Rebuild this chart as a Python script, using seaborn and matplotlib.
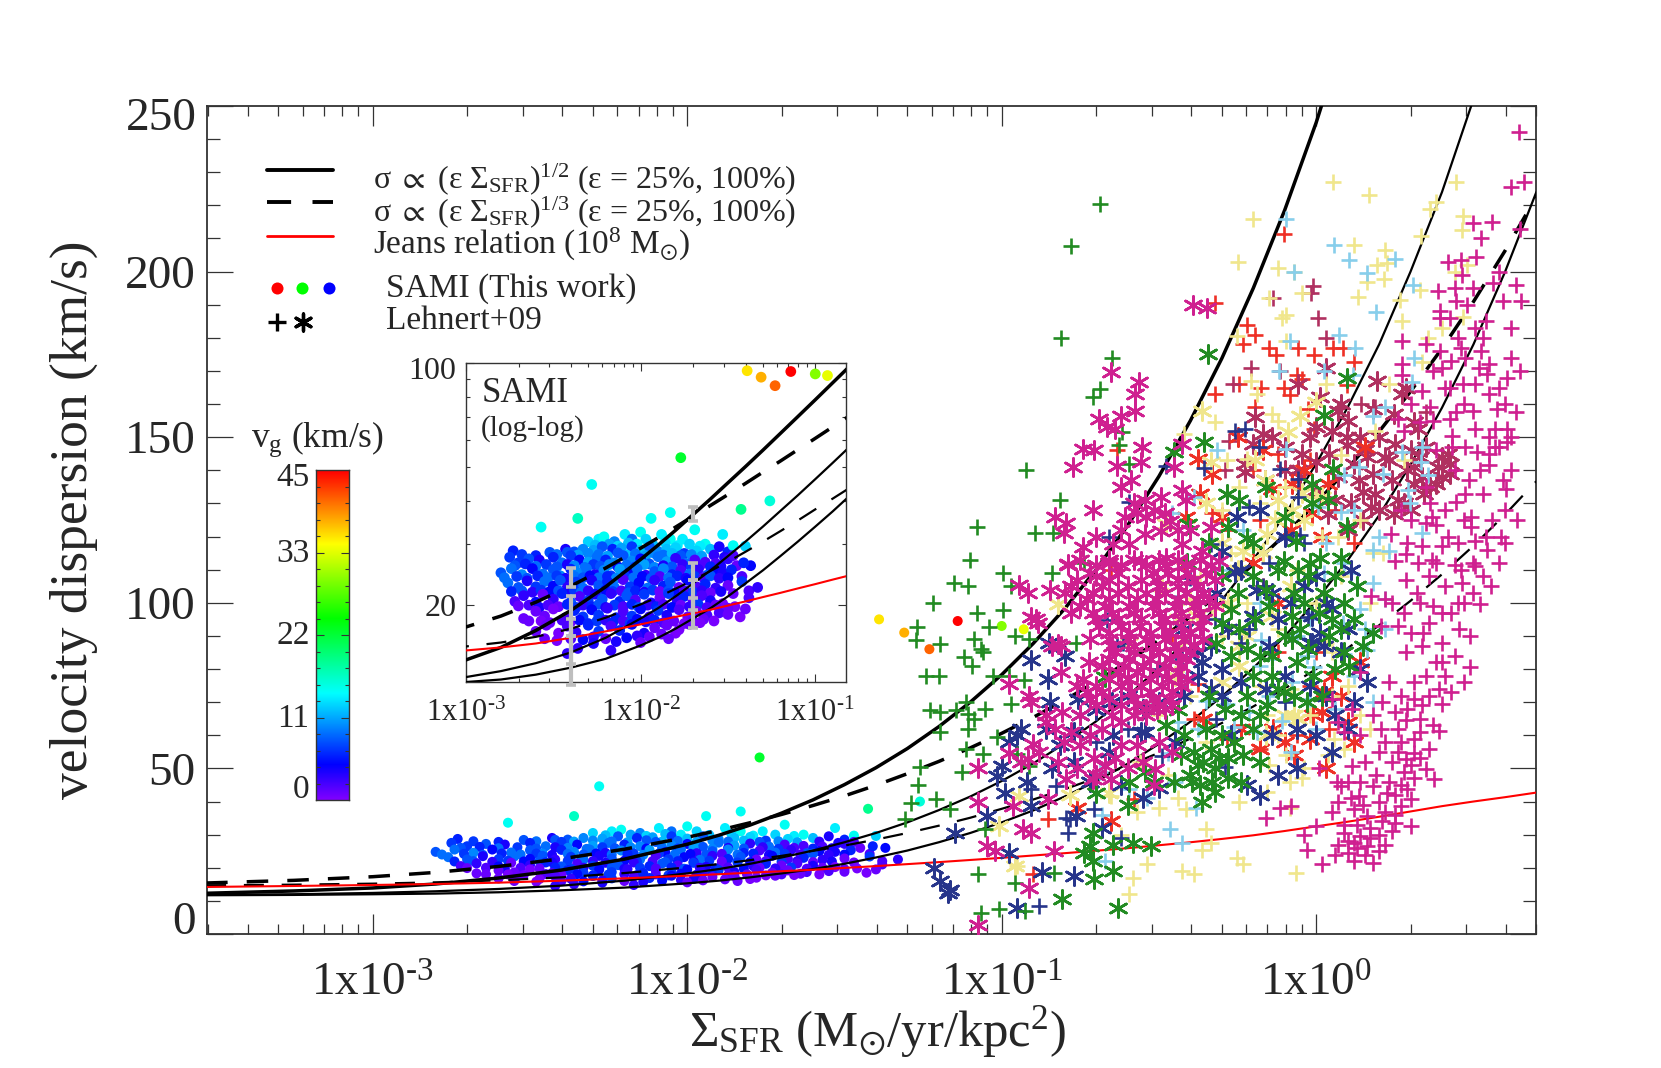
import numpy as np
import matplotlib
matplotlib.use("Agg")
import matplotlib.pyplot as plt
from matplotlib.colors import LinearSegmentedColormap, Normalize
from matplotlib.ticker import FixedLocator, NullFormatter
import seaborn as sns

sns.set_style("ticks")
plt.rcParams['font.family'] = ['Liberation Serif', 'DejaVu Serif']
plt.rcParams['mathtext.fontset'] = 'custom'
plt.rcParams['mathtext.rm'] = 'Liberation Serif'
plt.rcParams['mathtext.it'] = 'Liberation Serif:italic'
plt.rcParams['mathtext.bf'] = 'Liberation Serif:bold'
plt.rcParams['mathtext.fallback'] = 'stix'
plt.rcParams['mathtext.default'] = 'rm'

# ---- model curves (log10 SFR surface density -> km/s)
curve_logx = [-3.53,-3.25,-3.0,-2.8,-2.6,-2.4,-2.2,-2.0,-1.9,-1.8,-1.7,-1.6,-1.5,-1.4,-1.3,-1.2,-1.1,-1.0,-.9,-.8,-.7,-.6,-.5,-.4,-.3,-.2,-.1,0,.1,.2,.3,.4,.5,.6,.7]
solid_100 = [12.3,13.0,13.9,15.1,16.9,19.3,22.6,27.1,29.8,32.9,36.5,40.5,45.1,50.2,56,62.6,70,78.3,87.7,98.2,110,123.3,138.2,155,173.8,195,218.6,245,275,308,346,388,436,489,549]
solid_33 = [11.8,12.0,12.4,12.9,13.6,14.6,16.1,18.3,19.6,21.2,23.1,25.2,27.7,30.5,33.7,37.4,41.5,46.2,51.5,57.5,64.2,71.8,80.4,90,100.8,113,126.5,142,159,178,200,224,252,282,317]
solid_17 = [11.7,11.8,12.0,12.2,12.6,13.2,14.0,15.3,16.1,17.1,18.3,19.6,21.2,23.1,25.2,27.7,30.5,33.7,37.3,41.5,46.1,51.4,57.4,64.1,71.7,80.3,89.9,100.7,112.8,126.4,141.7,158.9,178,199.8,224]
dash_100 = [15.4,16.2,17.3,18.6,20.4,22.7,25.6,29.2,31.3,33.6,36.1,38.8,41.7,44.9,48.4,52.1,56.2,60.6,65.4,70.6,76.2,82.2,88.7,95.8,103.4,111.6,120.5,130.1,140.5,151.7,163.8,176.8,190.9,206.2,222.6]
dash_25 = [14.7,14.9,15.2,15.6,16.2,17.1,18.4,20.1,21.1,22.3,23.6,25.1,26.7,28.5,30.5,32.7,35.1,37.8,40.6,43.7,47.1,50.8,54.7,59,63.7,68.7,74.1,80,86.3,93.2,100.6,108.6,117.2,126.6,136.7]
jeans = [14.2,14.5,14.8,15.1,15.5,16.1,16.8,17.6,18.05,18.5,18.95,19.4,19.95,20.5,21.1,21.7,22.35,23,23.7,24.4,25.15,25.9,26.8,27.7,28.7,29.8,31.1,32.5,33.9,35.4,37,38.6,40,41.3,42.7]

# ---- SAMI points
sami_logx = [-2.30,-2.24,-2.21,-2.15,-2.09,-2.05,-2.00,-1.97,-1.88,-1.83,-1.76,-1.69,-1.63,-1.53,
 -2.26,-2.18,-2.13,-2.07,-2.02,-1.93,-1.86,-1.79,-1.72,-1.66,
 -2.73,-2.52,-2.43,-2.38,-2.33,-2.27,-2.22,-2.16,-2.11,-2.05,-2.0,-1.95,-1.9,-1.85,-1.8,-1.75,-1.68,-1.6,-1.55,-1.5,-1.47,
 -2.68,-2.6,-2.48,-2.42,-2.36,-2.3,-2.24,-2.19,-2.13,-2.08,-2.03,-1.97,-1.92,-1.87,-1.82,-1.77,-1.71,-1.65,-1.58,-1.52,
 -2.75,-2.7,-2.64,-2.58,-2.5,-2.45,-2.4,-2.35,-2.3,-2.25,-2.2,-2.15,-2.1,-2.05,-2.0,-1.95,-1.9,-1.85,-1.8,-1.74,-1.69,-1.63,-1.57,-1.5,-1.47,
 -2.72,-2.66,-2.6,-2.54,-2.48,-2.42,-2.38,-2.32,-2.27,-2.23,-2.18,-2.13,-2.08,-2.03,-1.98,-1.92,-1.87,-1.82,-1.76,-1.71,-1.66,-1.6,-1.54,-1.45,
 -2.8,-2.74,-2.68,-2.62,-2.56,-2.5,-2.46,-2.4,-2.36,-2.31,-2.26,-2.21,-2.17,-2.12,-2.07,-2.02,-1.97,-1.92,-1.87,-1.82,-1.77,-1.72,-1.67,-1.62,-1.58,-1.53,-1.48,
 -2.78,-2.71,-2.65,-2.59,-2.53,-2.48,-2.43,-2.38,-2.33,-2.29,-2.24,-2.19,-2.14,-2.09,-2.04,-1.99,-1.94,-1.89,-1.84,-1.79,-1.74,-1.69,-1.64,-1.6,-1.55,-1.5,-1.42,
 -2.76,-2.7,-2.65,-2.6,-2.55,-2.5,-2.46,-2.42,-2.37,-2.33,-2.28,-2.24,-2.19,-2.15,-2.1,-2.06,-2.01,-1.96,-1.92,-1.87,-1.83,-1.78,-1.73,-1.68,-1.63,-1.57,-1.5,-1.42,
 -2.74,-2.68,-2.62,-2.57,-2.52,-2.47,-2.43,-2.38,-2.34,-2.3,-2.25,-2.2,-2.16,-2.11,-2.07,-2.03,-1.98,-1.93,-1.89,-1.84,-1.8,-1.75,-1.7,-1.65,-1.6,-1.54,-1.47,-1.38,
 -2.72,-2.67,-2.6,-2.56,-2.5,-2.45,-2.4,-2.35,-2.3,-2.26,-2.22,-2.17,-2.12,-2.08,-2.03,-1.98,-1.94,-1.89,-1.84,-1.79,-1.75,-1.7,-1.65,-1.6,-1.53,-1.46,
 -2.7,-2.64,-2.58,-2.53,-2.47,-2.42,-2.37,-2.33,-2.28,-2.24,-2.2,-2.15,-2.1,-2.05,-2.01,-1.96,-1.91,-1.87,-1.82,-1.77,-1.72,-1.67,-1.62,-1.57,-1.5,
 -2.67,-2.6,-2.55,-2.5,-2.43,-2.38,-2.33,-2.28,-2.24,-2.19,-2.14,-2.1,-2.05,-2.0,-1.95,-1.9,-1.85,-1.78,-1.73,-1.68,-1.62,-1.55,-1.5,-1.43,
 -2.64,-2.57,-2.52,-2.45,-2.4,-2.35,-2.3,-2.25,-2.2,-2.16,-2.1,-2.06,-2.02,-1.97,-1.92,-1.87,-1.81,-1.75,-1.7,-1.64,-1.58,
 -2.6,-2.54,-2.47,-2.42,-2.37,-2.3,-2.24,-2.17,-2.12,-2.05,-1.98,-1.92,-1.85,-1.78,-1.72,-1.66,
 -2.55,-2.48,-2.4,-2.33,-2.27,-2.2,-2.14,-2.08,-2.02,-1.95,-1.88,-1.8,
 -2.42,-2.36,-2.27,-2.17,-2.0,-1.84,
 -1.40,-1.33,-1.37,-1.41,-1.38,-1.40,
 -2.57,-2.36,-2.28,-1.94,-1.83,-1.77,-1.425,-1.26,-1.39,-1.31,-1.23,-1.14,-1.0,-.93]
sami_sigma = [30.5,31,31.5,30.5,32,31,32.5,31,32,31,31,33,30,32,
 29.8,30,29.6,30.2,30,29.9,30.3,29.7,30,29.6,
 28.7,28.4,29,28.5,29,28.8,29.5,29,29.2,29.5,28.8,29.5,28.6,29,29.3,28.2,28.7,29,29.5,28.5,29.7,
 28,27.8,28,28.4,27.9,28.2,28,27.7,28.3,27.9,28.1,27.8,28.2,27.9,28.2,27.8,28,27.7,27.9,27.5,
 27.5,26.5,27.2,27,27.5,26.5,27.8,27,26.6,27.5,27,26.5,27.8,26.8,27.2,26.3,27.6,26.7,27.3,26.4,27,26.6,26.4,27.2,27.8,
 26,26.3,25.9,26.2,25.8,26.2,26,25.7,26.2,25.9,26.2,25.8,26.1,25.8,26.2,25.7,26,25.8,26.2,25.7,26,25.8,25.9,26,
 24.8,25.5,24.5,25.5,24.6,25.3,24.3,25.4,24.8,25.5,24.5,25.2,24.3,25.4,24.7,25.5,24.4,25,25.5,24.5,25.2,24.6,25.4,24.4,25,24.8,25.3,
 24,24.2,23.9,24.3,24,24.3,23.9,24.2,24,24.3,24,24.2,23.9,24.3,24,24.2,23.9,24.2,24,24.3,23.9,24.2,24,24.3,23.9,24,24.2,
 23.2,22.5,23.5,22.6,23.4,22.7,23.6,22.5,23.3,22.4,23.6,22.8,23.4,22.5,23.7,22.6,23.2,22.4,23.6,22.7,23.3,22.5,23.6,22.6,23,22.4,22.8,23.4,
 21.9,22,21.8,22.1,21.9,22,21.7,22.1,21.8,22,21.7,22.1,21.9,22,21.7,22,21.8,22.1,21.9,22,21.7,22,21.8,22,21.7,21.9,21.6,22,
 20.5,21.3,20.4,21.5,20.8,21.6,20.4,21.2,20.6,21.5,20.8,21.6,20.5,21.3,20.7,21.5,20.3,21,21.6,20.5,21.2,20.7,21.3,20.6,20.2,19.8,
 19.9,20,19.7,20,19.8,20.1,19.7,20,19.8,20.1,19.7,20,19.8,20.1,19.7,20,19.8,20.1,19.7,20,19.8,20.1,19.7,20,19.6,
 18.3,19.2,18.6,19.5,18.4,19.3,18.5,19.4,18.7,19.6,18.4,19.2,18.6,19.5,18.5,19.3,18.7,19.4,18.5,19.2,18.7,19,18.8,18.5,
 18,18,17.8,18.1,17.9,18.1,17.7,18,18.1,17.8,18,17.7,18.2,17.9,18.1,17.8,18,17.7,18,18.2,18,
 16.8,17.5,16.6,17.4,16.7,17.5,16.8,17.4,16.9,17.6,16.6,17.2,17.5,17,17.6,17.8,
 16,15.8,16,15.9,16.2,16,15.7,16.1,16.3,16.2,16.5,16.6,
 14.5,15,15.5,14.8,15.6,16,
 29.6,22.5,26,26.5,21,19.5,
 33.6,35.6,44.6,35.6,37,53.3,37.8,40,95,91,86,94.5,93,92]
sami_vg = [13,14,15,10,14,9,15,13,14,15,14,15,15,14,
 12,11,13,12,14,12,13,14,13,14,
 6,8,4,8,10,11,8,6,11,7,12,8,10,12,13,7,13,12,4,6,15,
 7,6,9,8,11,10,9,11,8,12,9,11,10,9,12,8,10,11,3,4,
 7,7,8,4,6,9,7,5,11,9,6,10,8,10,5,8,9,11,3,9,2,2,2,3,2,
 8,6,9,7,8,4,10,9,7,8,10,5,9,7,11,10,4,8,3,7,2,6,4,1,
 8,9,10,5,9,8,10,6,10,9,4,10,7,11,5,9,3,8,10,6,2,9,3,8,5,4,6,
 9,7,8,6,9,7,4,9,8,5,9,6,10,7,9,5,8,2,9,6,4,7,2,8,3,5,2,
 9,8,4,7,9,5,8,3,7,9,4,8,6,9,2,7,5,9,3,6,8,1,5,2,6,3,1,7,
 6,8,3,7,5,8,4,7,9,3,8,5,7,2,8,6,4,7,1,8,5,2,7,3,1,4,1,2,
 2,3,5,1,3,6,8,2,7,4,8,3,6,8,2,7,4,1,7,3,6,1,2,4,0.5,0.5,
 1,2,4,2,1,6,7,3,6,8,4,7,2,6,8,3,6,2,5,1,3,7,2,1,1,
 1,1,1,0.5,2,6,7,5,7,3,6,2,7,5,3,7,4,2,1,1,2,2,1,0.5,
 1,0.5,1,2,1,5,6,7,3,6,2,7,5,4,6,2,1,0.5,2,1,0.5,
 1,1,0.5,2,3,6,7,2,6,5,4,1,1,0.5,1,0.5,
 1,0.5,2,5,3,1,4,5,3,1,1,0.5,
 3,3,4,3,1,1,
 13,3,5,6,2,1,
 15,17,15,15,15,23,19,16,36,38,41,45,30,34]

# ---- Lehnert+09 points (log10 x, sigma)
magenta_plus = [(.02,21),(.06,24),(.10,24.5),(.12,22),(.155,24),(.18,21.5),(.12,27.5),(.16,26.5),(.22,27),(-.03,25.5),(-.04,30),(0,32.6),(.09,30.6),(.14,29.6),(.2,30),(.25,33.6),(.3,32.6),(.05,36.7),(.12,37.7),(.16,35.7),(.22,36.7),(.27,38.7),(.3,40.7),(.08,44.7),(.135,41.7),(.18,44.7),(.225,42.7),(.29,43.7),(.35,49.8),(.28,48.8),(.24,51.8),(.285,52.8),(.31,54.8),(.375,46.8),(-.116,38),(-.16,35),(-.08,38.7),
 (.155,52),(.01,50),(.065,45.8),(.115,50.8),(.205,62),(.26,62),(.33,61),(.39,61.4),(.09,61),(.14,60),(.285,64.5),(.335,69),(.40,69.5),(.43,73),(.47,76),(.41,78),(.49,80.6),(.05,71),(.115,68),(.07,64),(.18,66),(.27,72),(.31,71),(.23,76),(.14,79),(.285,85),(.335,87),(.40,82),(.455,92),(.52,99.6),(.26,93),(.205,93),(.175,102),(.22,101),(.32,103),(.36,94),(.465,106),(.556,105),(.285,107),(.36,108),
 (.644,242),(.62,225.5),(.66,227),(.498,214.6),(.647,213),(.524,210),(.507,204.5),(.46,203.5),(.463,199),(.44,195),(.388,194),(.634,196),(.563,196.5),(.595,191),(.65,191),(.446,191),(.479,190),(.395,188),(.427,186),(.395,186),(.505,183),(.62,183),(.53,180),(.459,177),(.395,176),(.524,176),(.62,174),(.472,174),(.272,179),(.272,172),(.40,171),(.517,171),(.543,169),(.272,168.7),(.647,170),(.608,168),(.466,166),(.427,165),(.505,166),(.55,163),(.336,164),(.576,158.6),(.634,157.6),(.362,159),(.446,157.6),(.427,155.5),(.259,155.5),(.278,152),(.33,154.5),(.505,152.5),(.569,152.5),(.608,152.5),(.433,150.5),(.433,147),(.472,147),(.608,148.5),(.511,145.5),(.55,145),(.569,147),(.55,141.5),(.485,137),(.595,137),(.602,134.5),(.472,133),(.446,130.5),(.362,130),(.369,126),(.492,126),(.382,123.5),(.492,123),(.589,120),(.239,120.7),(.505,118.7),(.543,116),(.401,117),(.336,117),(.285,114.7),(.252,112.7),(.323,112),(.369,113),(.505,111),(.44,111.5),
 (.07,27),(.1,28),(.13,26),(.17,29),(.2,25),(.24,31),(.09,33),(.13,33),(.17,32),(.21,34),(.25,36),(.07,40),(.11,41),(.15,39),(.2,40),(.25,42),(.1,46),(.14,46),(.19,48),(.23,46),(.27,45),(.31,47),(.26,55),(.3,51),(.33,53),(.2,55),(.22,58),(.27,58),(.31,59),(.36,56),(.37,63),(.33,65),(.29,68),(.25,67),(.21,70),(.36,72),(.39,74),(.35,78),(.31,76),(.38,82),(.44,84),(.34,91),(.3,91),(.28,97),(.4,88),(.43,97),(.49,90),(.47,100),(.41,105),(.37,99),(.53,108),(.5,112),(.58,112),(.45,118),(.56,125),(.6,128),(.53,133),(.41,128),(.35,124),(.3,125),(.27,128),(.44,140),(.38,146),(.5,158),(.41,165),(.37,170),(.58,165),(.54,185),(.45,180),(.58,200),(.6,160),(.62,140),(.47,125),
 (.46,110),(.38,112),(.54,120),(.42,120),(.6,118),(.64,125),(.52,140),(.58,147),(.47,160),(.55,172),(.43,173),(.35,178),(.5,195),(.42,203),(.56,215),(.35,135),(.29,118),(.45,100),(.5,103),(.33,100),(.4,97),(.24,100),(.55,150),(.62,150),(.37,155),(.3,160)]
magenta_star = [(-.391,190),(-.347,189),(-.653,169.7),(-.563,166.7),(-.576,163),(-.576,158),(-.69,155.5),(-.62,156.5),(-.666,153),(-.64,152.5),(-.74,146.5),(-.705,146),(-.554,147),(-.556,142.5),(-.634,141.4),(-.774,141),(-.589,137),(-.71,128),(-.83,126),(-.796,124),(-.802,121),(-.699,120),(-.74,116.7),(-.427,148),(-.453,141),(-.543,131),(-.492,132),(-.427,134),(-.608,126),(-.569,127),(-.517,128),(-.466,124.7),(-.414,131),(-.336,123),(-.647,117.7),(-.595,117.7),(-.543,120.7),(-.492,121.7),(-.427,117.7),(-.362,115.7),(-.556,112.6),(-.479,113.6),(-.414,111.6),(-.789,111.6),(-.31,112.6),
 (-.944,105.4),(-.918,103),(-.847,104),(-.906,95.8),(-.886,94),(-.821,87.7),(-.724,82),(-.977,75.6),(-.912,72),(-.906,70),(-.86,64),(-.808,67),(-.75,57),(-.705,53),(-.802,58),(-.9,57.4),(-.977,54.8),(-.938,52),(-1.074,50),(-.796,46.8),(-.711,46.8),(-.653,46.8),(-.517,45),(-1.074,40),(-.964,38.7),(-.854,40.7),(-.906,30.6),(-.931,31.6),(-1.048,26.6),(-1.022,25),(-.834,25),(-.912,14),(-1.074,2.8),(-.621,57),(-.673,50.8),(-.569,57),(-.511,49.8),(-.918,52.8),
 (-.83,62),(-.78,61),(-.72,60),(-.68,62),(-.62,64),(-.58,66),(-.88,55),(-.82,52),(-.76,50),(-.7,48),(-.64,53),(-.6,50),(-.55,52),(-.5,58),(-.46,55),(-.62,135),(-.58,130),(-.54,126),(-.48,127),(-.44,122),(-.4,122),(-.62,122),(-.66,112),(-.7,108)]
magenta_star_core = [(-.79,111.4),(-.70,111.4),(-.62,111.4),(-.54,111.4),(-.48,111.4),(-.414,111.4),(-.336,111.4),
 (-.76,107),(-.66,107),(-.556,107),(-.505,107),(-.44,107),(-.39,107),(-.323,107),
 (-.80,103),(-.71,103),(-.63,103),(-.54,103),(-.48,103),(-.414,103),(-.36,103),
 (-.75,99),(-.67,99),(-.595,99),(-.52,99),(-.45,99),(-.39,99),(-.323,99),
 (-.89,95),(-.70,95),(-.63,95),(-.556,95),(-.48,95),(-.43,95),(-.36,95),
 (-.66,91),(-.595,91),(-.53,91),(-.465,91),(-.40,91),
 (-.84,87),(-.81,87),(-.65,87),(-.58,87),(-.52,87),(-.45,87),(-.39,87),
 (-.66,83),(-.595,83),(-.53,83),(-.465,83),(-.414,83),
 (-.81,79),(-.63,79),(-.57,79),(-.505,79),(-.44,79),
 (-.76,75),(-.70,75),(-.62,75),(-.556,75),(-.49,75),(-.43,75),
 (-.72,71),(-.66,71),(-.58,71),(-.52,71),(-.465,71),
 (-.54,68),(-.505,68),(-.48,68),(-.86,66),(-.75,66),(-.65,66),(-.54,66),
 (-.75,113),(-.66,113),(-.58,113),(-.5,113),(-.44,113),(-.37,113),
 (-.72,109),(-.63,109),(-.52,109),(-.47,109),(-.41,109),(-.35,109),
 (-.78,105),(-.68,105),(-.6,105),(-.5,105),(-.44,105),(-.38,105),
 (-.73,101),(-.66,101),(-.57,101),(-.51,101),(-.44,101),(-.38,101),(-.34,101),
 (-.78,97),(-.71,97),(-.65,97),(-.58,97),(-.5,97),(-.43,97),(-.37,97),
 (-.69,93),(-.62,93),(-.56,93),(-.49,93),(-.43,93),(-.37,93),
 (-.72,89),(-.66,89),(-.6,89),(-.54,89),(-.48,89),(-.42,89),(-.36,89),
 (-.64,85),(-.58,85),(-.5,85),(-.44,85),(-.4,85),
 (-.68,81),(-.61,81),(-.55,81),(-.48,81),(-.43,81),
 (-.74,77),(-.66,77),(-.6,77),(-.53,77),(-.47,77),(-.41,77),
 (-.73,73),(-.68,73),(-.59,73),(-.53,73),(-.46,73),
 (-.7,69),(-.62,69),(-.57,69),(-.5,69),(-.46,69)]
maroon_star = [(.194,167),(.272,163),(.284,165),(.032,171),(-.058,166),(.013,162),(.07,158),(.18,158.6),(.246,157),(.31,154.5),(.323,152.5),(-.168,151),(-.194,156),(.097,150),(.097,147.5),(.155,146),(.162,144),(.233,143),(.40,144),(.427,142),(.388,141),(.427,139),(.136,137),(.149,133.5),(.188,133),(.11,130),(.175,129),(.246,126.8),(.31,136),(.362,135),(.40,138),(.343,133),(.336,138),(.039,126.8),(.013,131),(0,142.5),(-.045,145),(-.10,147),(-.226,139.6),(-.226,142),(-.162,137),(-.058,140),(.10,122),
 (.0,153),(.05,152),(.1,155),(.14,150),(.2,150),(.25,148),(.3,146),(.35,147),(.12,142),(.07,138),(.18,139),(.24,137),(.29,140),(.33,144),(.38,136),(.42,145),(.2,128),(.26,131),(.06,131),(.0,134),(-.05,138),(-.1,140),(-.14,150),(-.02,150),(.15,125),(.3,128),(-.2,148),(.08,160),(.04,145),(.28,130),(.31,141),(.22,144)]
maroon_plus = [(-.01,195.7),(-.016,193.5),(.006,186),(-.136,192),(-.207,171),(-.265,166),(.032,180),(-.116,170),(-.29,140),(-.278,149),(.142,160),(.188,159),(.35,157.6)]
red_plus = [(-.103,211.4),(-.323,190.6),(-.22,184),(-.194,181),(-.233,178),(-.149,177),(-.129,174.7),(-.058,176.8),(-.006,174.7),(.052,177),(.084,176.8),(.119,172.7),(-.062,168.7),(-.045,167.7),(-.103,165),(-.246,166),(-.323,163),(-.175,165),(-.084,162.6),(-.194,159),(.097,165.7),(-.026,158.6),(-.006,152.5),(-.634,146),
 (-.653,110),(-.388,65),(-.239,63),(-.285,59),(-.18,56),(-.375,75.6),(-.854,34.6),(-.899,18),(-.58,40.7),
 (-.2,140),(-.12,145),(-.02,143),(.06,128),(.12,118),(-.33,127),(-.28,122),(-.18,125),(-.42,112),(-.46,90),(-.12,85),(-.06,60),(-.02,75),(.04,62),(-.17,105),(-.3,100),(.0,85)]
red_star = [(-.136,62),(.026,73),(.02,67),(-.07,54),(-.02,59),(-.18,56),(-.76,38),(-.653,34),(-.36,65),(-.375,143.5),(-.33,139),(-.168,146),(-.142,134.5),(-.078,136),(-.013,127),(.039,136),(.155,147),(-.414,126),(-.369,133),
 (-.25,150),(-.3,126),(-.08,122),(.02,120),(-.2,112),(-.12,100),(.05,78),(-.01,66),(-.1,58),(-.24,62),(-.04,140),
 (.1,64),(.08,72),(.12,58),(.14,82),(.03,50)]
khaki_plus = [(.052,227),(.168,223),(-.2,216),(-.25,203),(-.123,201),(-.07,200),(.119,208),(.22,206.6),(.194,202),(.226,202.5),(.162,197),(.217,197.7),(-.149,192),(-.045,193.4),(.133,192.4),(-.097,187),(-.11,186),(.272,185),(.446,227),(.362,219),(.382,221),(.466,216.7),(.463,212.6),(.334,210.6),(.44,200),(.479,202),(.265,191.4),(.33,194.4),(.356,180),(.336,172.7),(.40,183),(.466,186.4),(-.252,180.5),(-.097,179),(-.207,167),(.032,166),(.233,166),(-.187,163),(-.323,154.5),(-.123,155),(-.42,151),(-.285,143),(-.22,143.5),(.078,144.5),(.278,143),(.188,152),(-.142,157),(0,132),(-.246,135),(.213,115),
 (-.065,18.5),(-.233,21),(-.252,23),(-.388,18),(-.427,19),(-.537,21),(-.582,17),(-.595,12),(-.362,25.5),(-.336,27.6),(-.414,37.7),(-.44,41),(-.246,40),(-.155,43),(-.084,45.8),(-.045,47),(-.084,38),(-.097,54),(.039,54),(.058,59),(-.149,51),(-.57,36.7),(-.653,41.7),(-.95,20.5),(-.35,31.6),(-.155,66),
 (-.3,128),(-.27,115),(-.22,100),(-.12,92),(-.06,110),(.02,120),(.08,108),(.17,100),(-.33,98),(-.37,108),(-.43,88),(-.18,130),(-.1,135),(-.4,72),(-.5,66),(-.3,90),(-.18,75),(-.12,60),(-.02,66),(.05,72),(-.35,58),(-.47,48),(-.5,38),(-.62,30),(-.56,52),
 (.05,85),(.1,75),(.14,66),(.17,62),(.09,56),(-.04,50),(.0,100),(.07,120),(.14,125),(.18,115),(.03,88),(-.08,74)]
khaki_star = [(-.058,65),(-.07,66),(-1.01,32.6),(-.957,20.5),(-.66,42.7),(-.783,42),(-.944,41.7),(-.82,99.7),(-.40,100.8),(-.49,105),(-.595,88),(-.246,81),(-.246,87),(-.362,158),(0,160.6),(-.09,151.5),(-.052,156.5),(-.194,143),(-.336,142.5),(-.162,137),(-.123,131),(-.078,128),(-.155,120.7),(-.233,115.7),(-.045,133.3),(-.479,123.7),
 (-.35,130),(-.3,118),(-.25,110),(-.17,115),(-.08,105),(-.13,125),(-.04,125),(.02,132),(-.28,100),(-.22,90),(-.14,96),(-.44,95),(-.38,96),(-.3,76),(-.16,60),(-.1,66),(-.55,68),(-.45,78)]
sky_plus = [(-.097,216),(.058,208),(.103,203.5),(.162,199.5),(.252,203.7),(-.07,200),(.308,196),(.191,187.7),(-.084,179),(.071,180.8),(.123,177),(.31,174),(-.119,170),(.026,170),(.116,168.7),(.304,166.7),(.22,159),(.18,156.5),(-.317,146),(-.097,146.5),(.272,145.5),(.336,147),(.334,142.5),(.136,141),(.09,138.5),(.213,139),(.356,138.5),(.291,134),(.298,130),(.336,121),(.078,127.3),(.006,129),(.18,116),(.233,115.7),(-.388,132),(-.46,127),(-.233,122),
 (.11,109),(.18,106),(.22,101),(.084,94),(.155,92),(.22,92),(.162,85.6),(.09,84.6),(-.142,83),(-.18,81),(-.006,80.6),(.026,109),(-.213,92),(-.175,88.7),(-.078,76),(-.414,76.6),(-.02,71),(-.35,70.5),(-.285,69.5),(-.213,67),(-.44,64),(-.375,62),(-.11,64.4),(-.26,62.4),(-.188,61),(-.472,54.8),(-.686,48.8),(-.595,43.7),(-.537,41),(-.382,38),(-.68,36),(-.466,31.6),(-.427,27.6),(-.673,22),
 (-.3,110),(-.18,100),(-.06,90),(.03,118),(-.02,95),(-.15,72),(-.45,46),
 (.12,78),(.06,68),(.0,62),(.14,98),(.09,112),(-.08,55),(-.03,84),(.18,70),(.2,120),(.12,128)]
navy_plus = [(-.259,152),(-.226,152.5),(-.181,147),(-.479,141.4),(-.356,140.6),(-.116,140.4),(-.058,137.4),(-.058,132),(-.595,130.3),(-.213,129),(-.66,120),(-.097,120),(-.052,120.5),(-.336,117.7),
 (-.213,92),(-.615,88),(-.666,94.7),(-.323,95),(-.427,83),(-.783,34.6),(-.789,30.6),(-.828,44.7),(-.906,43.7),(-.88,8.4),(-.796,35),(-.62,29),(-.705,37.7),(-.29,50.3),(-.634,87),(-.49,53.8),(-.026,95.8),(-.168,105),(-.40,107.4),
 (-.5,80),(-.32,65),(-.7,58),(-.6,62),(-.1,70),(-.24,88),(-.45,100),(-.15,112),(-.04,118)]
navy_star = [(-.906,82.6),(-.854,77),(-1.0,50.8),(-1.015,47.8),(-.99,42.7),(-.938,62),(-.951,60),(-.977,58),(-.757,71),(-.699,67.5),(-.77,61),(-.75,66),(-.815,57),(-.847,70),(-1.15,30.6),(-1.216,20),(-1.197,16),(-1.164,13.4),(-1.17,12.4),(-.977,24.5),(-.873,18.7),(-.77,17.5),(-.951,7.9),(-1.048,35.6),(-.906,38.7),(-.763,35.7),(-.647,60),(-.556,61),(-.362,82),(-.375,78),(-.336,74),(-.259,109.4),(-.188,104),(-.142,103),(-.013,96),(-.013,88),(.026,87),(.013,91),(-.078,89),(-.336,87),(-.252,126),(-.3,115.7),(-.543,61),
 (-.65,70),(-.6,72),(-.55,68),(-.72,60),(-.77,52),(-.66,55),(-.62,45),(-.55,41),(-.5,44),(-.42,72),(-.38,85),(-.3,80),(-.28,92),(-.24,110),(-.2,96),(-.15,87),(-.12,95),(-.08,100),(-.04,105),(-.1,78),(-.16,74),(-.24,76),(-.3,72),(-.06,62),(-.42,92),(-.38,105),(-.32,103),(.0,108),(.03,100),(-.85,88),(-.8,84),(-.86,62),(-.92,46),(-.84,50),(-.72,46),(-.68,32),(-.45,58),(-.5,70),(-.1,120),(-.18,128),
 (-.02,75),(.03,72),(.08,85),(.1,92),(.14,80),(.06,66),(.1,62),(.0,60),(.05,55),(-.06,50),(-.12,48),(-.18,42),(.12,70),(.16,76),(-.02,88),(.05,98),(.11,110),(-.14,60),(-.22,45),(-.27,60)]
green_plus = [(-.686,220.4),(-.781,207.6),(-.811,180),(-.649,174),(-.686,164.6),(-.71,162),(-.616,151.5),(-.628,147.5),(-.922,140),(-.815,131),(-1.08,123),(-.893,121),(-.838,121),(-1.10,113),(-.595,142),
 (-.737,112),(-.84,109),(-.996,109),(-1.151,106),(-1.106,105),(-.97,105),(-1.22,100),(-1.08,96.8),(-.996,97.8),(-1.268,92.7),(-1.04,92.7),(-.958,90),(-1.274,88.7),(-1.197,87.7),(-1.087,89),(-.912,89),(-1.067,86),(-1.119,83.6),(-1.093,81),(-1.06,85),(-1.242,78),(-1.2,78),(-1.028,78),(-.977,78),(-.93,76.6),(-1.112,70),(-1.229,67.5),(-1.197,67),(-1.145,67.5),(-1.054,68),(-1.106,66.5),(-.97,69.5),(-1.087,65),(-1.197,61),(-1.106,62),(-1.016,59.4),(-1.112,56),(-1.06,54.3),(-.95,54.3),(-1.261,50.3),(-1.125,48.8),(-1.265,45),(-1.287,39.7),(-1.21,40.7),(-1.306,34.6),(-1.164,37.7),(-1.067,6.4),(-1.01,7.6),(-.925,6.9),(-.834,18.5),(-.957,15.5),(-1.074,18),(-1.054,31.6),(-.763,88),(-.912,50.8)]
green_star = [(-.343,175),(.097,168),(.026,156.6),(-.356,148.5),(-.453,145.5),(.052,140.4),(-.013,136),(-.285,133),(-.246,131),(.039,131),(.097,123),(-.408,123.8),(-.22,119.7),(-.065,118.7),(-.013,130),(-.103,112.6),(.013,113.6),(.078,113.6),
 (-.07,103),(-.058,110),(-.026,108),(-.272,98),(-.3,94),(-.246,92),(-.194,95),(-.149,99),(-.078,96),(.026,103),(.09,100),(-.052,92),(-.026,86),(-.078,89),(.09,85),(.103,81),(.18,91),(-.22,86),(-.18,84),(-.142,78),(-.103,73),(-.155,69),(-.18,66),(-.44,67.5),(-.336,56),(-.388,55),(-.31,53),(-.375,51),(-.323,50),(-.233,54),(-.395,45.8),(-.453,45.8),(-.239,46),(-.323,43),(-.362,40),(-.517,45.8),(-.595,46),(-.673,77.6),(-.6,39),(-.699,42.7),(-.71,30.6),(-.718,26.6),(-.737,24.5),(-.647,27),(-.582,27.6),(-.524,26.6),(-.71,22),(-.647,19),(-.705,16.5),(-.808,10.6),(-.63,7.9),(-.479,63),(-.543,48.8),
 (-.3,108),(-.25,103),(-.2,108),(-.16,104),(-.12,110),(-.04,100),(.01,97),(.05,95),(.12,95),(-.02,112),(.06,108),(.13,105),(-.32,88),(-.27,84),(-.2,78),(-.14,84),(-.1,90),(-.06,82),(-.01,78),(.04,90),(.08,92),(.15,87),(-.34,72),(-.29,68),(-.24,66),(-.22,72),(-.3,60),(-.26,58),(-.2,62),(-.35,62),(-.43,54),(-.4,48),(-.28,47),(-.18,52),(-.12,74),(-.07,72),(-.03,70),(.02,72),(.06,80),(-.2,118),(-.28,123),(-.34,118),(-.41,112),(-.1,126),(-.16,135),(-.33,46),(-.36,52),(-.42,60),(-.37,45),(-.28,53)]

# ---- inset error bars
err_x = [0.004,0.004,0.004,0.004,0.02,0.02,0.02,0.02]
err_low = [11.8,13.5,16.3,22.6,17.2,19.4,23.6,35]
err_high = [16.3,18.2,21.2,25.6,21,23.6,26.4,38.3]

# ---- tick labels
main_xticks = [1e-3,1e-2,1e-1,1e0]
main_xlabels = ['1x10$^{\\text{-3}}$','1x10$^{\\text{-2}}$','1x10$^{\\text{-1}}$','1x10$^{0}$']
main_yticks = [0,50,100,150,200,250]
main_ylabels = ['0','50','100','150','200','']
inset_xticks = [1e-3,1e-2,1e-1]
inset_xlabels = main_xlabels[:3]
cbar_ticks = [11.25,22.5,33.75]
cbar_labels = ['0','11','22','33','45']
cbar_label_pos = [1.45,11.1,22.4,33.6,44]

C_MAG, C_MAR, C_RED, C_KHA, C_SKY, C_GRN, C_NAV = '#CF2090','#B03060','#EE3026','#F0E68C','#87CEEB','#228B22','#27358B'
vg_cmap = LinearSegmentedColormap.from_list('vg', [(0,'#8000FF'),(.106,'#0000FF'),(.323,'#00FFFF'),(.55,'#00FF00'),(.777,'#FFFF00'),(1,'#FF0000')])
vg_norm = Normalize(0,45)
sami_colors = [vg_cmap(vg_norm(v)) for v in sami_vg]
sami_x = 10.0**np.array(sami_logx)
STAR = (6,2,0)

W,H = 1661,1068
fig = plt.figure(figsize=(W/100,H/100),dpi=100,facecolor='white')
ax = fig.add_axes([206.5/W,1-934/H,(1536-206.5)/W,(934-106)/H])

def draw_curves(a, thick, thin):
    x = 10.0**np.array(curve_logx)
    sns.lineplot(x=x,y=solid_100,ax=a,color='k',lw=thick,estimator=None,sort=False,zorder=3)
    sns.lineplot(x=x,y=solid_33,ax=a,color='k',lw=thin,estimator=None,sort=False,zorder=3)
    sns.lineplot(x=x,y=solid_17,ax=a,color='k',lw=thin,estimator=None,sort=False,zorder=3)
    sns.lineplot(x=x,y=dash_100,ax=a,color='k',lw=thick,linestyle=(0,(6.2,5.5)),estimator=None,sort=False,zorder=3)
    sns.lineplot(x=x,y=dash_25,ax=a,color='k',lw=thin,linestyle=(0,(9,8)),estimator=None,sort=False,zorder=3)
    sns.lineplot(x=x,y=jeans,ax=a,color='#FF0000',lw=1.5,estimator=None,sort=False,zorder=3)

ax.set_xscale('log')
sns.scatterplot(x=sami_x,y=sami_sigma,c=sami_colors,s=52,linewidth=0,ax=ax,zorder=2)
draw_curves(ax,2.5,1.6)

groups = [(red_plus,C_RED,'+'),(maroon_plus,C_MAR,'+'),(maroon_star,C_MAR,STAR),(red_star,C_RED,STAR),
          (khaki_plus,C_KHA,'+'),(khaki_star,C_KHA,STAR),(sky_plus,C_SKY,'+'),(navy_plus,C_NAV,'+'),(navy_star,C_NAV,STAR),
          (green_plus,C_GRN,'+'),(green_star,C_GRN,STAR),(magenta_plus,C_MAG,'+'),(magenta_star,C_MAG,STAR),(magenta_star_core,C_MAG,STAR)]
for i,(pts,col,mk) in enumerate(groups):
    arr = np.array(pts)
    sns.scatterplot(x=10.0**arr[:,0],y=arr[:,1],color=col,marker=mk,s=170 if mk is STAR else 125,linewidth=1.9,ax=ax,zorder=4+i*0.01,clip_on=True)

ax.set_xlim(2.96e-4,5.0)
ax.set_ylim(0,250)
ax.set_xticks(main_xticks); ax.set_xticklabels(main_xlabels)
ax.xaxis.set_minor_locator(FixedLocator([m*10.0**e for e in range(-4,1) for m in range(2,10)]))
ax.xaxis.set_minor_formatter(NullFormatter())
ax.set_yticks(main_yticks); ax.set_yticklabels(main_ylabels)
ax.set_yticks([v for v in range(0,251,10) if v%50], minor=True)
ax.tick_params(axis='x',which='major',direction='in',length=14.5,width=.9,top=True,bottom=True,color='#333333',labelsize=34,pad=21)
ax.tick_params(axis='x',which='minor',direction='in',length=7.2,width=.9,top=True,bottom=True,color='#333333')
ax.tick_params(axis='y',which='major',direction='in',length=19,width=.9,left=True,right=True,color='#333333',labelsize=34,pad=8)
ax.tick_params(axis='y',which='minor',direction='in',length=9.5,width=.9,left=True,right=True,color='#333333')
ax.get_yticklabels()[0].set_va('baseline')
for s in ax.spines.values():
    s.set_linewidth(1.3); s.set_color('#333333'); s.set_visible(True)
ax.set_xlabel(''); ax.set_ylabel('')
ax.text(-.0076,1-12/782,'250',transform=ax.transAxes,fontsize=34,ha='right',va='center')

fig.text(70*1.059/W,1-520/H,'velocity dispersion (km/s)',rotation=90,ha='center',va='center',fontsize=38.5)
fig.text(878/W,1-1032/H,'Σ$_{\\mathrm{SFR}}$ (M$_{\\odot}$/yr/kpc$^{2}$)',ha='center',va='center',fontsize=36.5)

# legend
def ax_x(X): return (X-195)/1255
def ax_y(Y): return 1-(Y-100)/782
tr = ax.transAxes
ax.plot([ax_x(252),ax_x(314)],[ax_y(160)]*2,color='k',lw=2.8,transform=tr,zorder=6)
ax.plot([ax_x(252),ax_x(314)],[ax_y(191)]*2,color='k',lw=2.8,linestyle=(0,(6.2,5.5)),transform=tr,zorder=6)
ax.plot([ax_x(252),ax_x(314)],[ax_y(223)]*2,color='#FF0000',lw=2,transform=tr,zorder=6)
for X,c in zip([262,285,311],['#FF0000','#00FF00','#0000FF']):
    ax.scatter([ax_x(X)],[ax_y(272)],s=75,color=c,linewidth=0,transform=tr,zorder=6)
ax.scatter([ax_x(262)],[ax_y(304)],s=150,color='k',marker='+',linewidth=2.4,transform=tr,zorder=6)
ax.scatter([ax_x(286)],[ax_y(304)],s=150,color='k',marker=STAR,linewidth=2.4,transform=tr,zorder=6)
leg_size = 24
ax.text(ax_x(352),ax_y(178),'σ ${\\propto}$ (ε Σ$_{\\mathrm{SFR}}$)$^{1/2}$ (ε = 25%, 100%)',fontsize=23,transform=tr,va='baseline',zorder=6)
ax.text(ax_x(352),ax_y(209),'σ ${\\propto}$ (ε Σ$_{\\mathrm{SFR}}$)$^{1/3}$ (ε = 25%, 100%)',fontsize=23,transform=tr,va='baseline',zorder=6)
ax.text(ax_x(352),ax_y(240),'Jeans relation (10$^{8}$ M$_{\\odot}$)',fontsize=leg_size,transform=tr,va='baseline',zorder=6)
ax.text(ax_x(364),ax_y(280),'SAMI (This work)',fontsize=leg_size,transform=tr,va='baseline',zorder=6)
ax.text(ax_x(364),ax_y(311),'Lehnert+09',fontsize=leg_size,transform=tr,va='baseline',zorder=6)

# inset
ins = fig.add_axes([466/W,1-682/H,(846-466)/W,(682-363)/H],zorder=5,facecolor='white')
ins.set_xscale('log'); ins.set_yscale('log')
sns.scatterplot(x=sami_x,y=sami_sigma,c=sami_colors,s=60,linewidth=0,ax=ins,zorder=2)
draw_curves(ins,2.5,1.6)
err_x_a,err_low_a,err_high_a = np.array(err_x),np.array(err_low),np.array(err_high)
ins.errorbar(err_x_a,(err_low_a+err_high_a)/2,yerr=(err_high_a-err_low_a)/2,fmt='none',ecolor='#BEBEBE',elinewidth=3,capsize=3.5,capthick=2.6,zorder=5,clip_on=False)
ins.set_xlim(1e-3,0.15); ins.set_ylim(12,100)
ins.set_xticks(inset_xticks); ins.set_xticklabels(inset_xlabels)
ins.xaxis.set_minor_locator(FixedLocator([m*10.0**e for e in range(-3,0) for m in range(2,10)]))
ins.xaxis.set_minor_formatter(NullFormatter())
ins.set_yticks([20,100]); ins.set_yticklabels(['20',''])
ins.set_yticks([30,40,50,60,70,80,90],minor=True); ins.yaxis.set_minor_formatter(NullFormatter())
ins.tick_params(axis='x',which='major',direction='in',length=5.5,width=.8,top=True,bottom=True,color='#333333',labelsize=22,pad=12)
ins.tick_params(axis='y',which='major',direction='in',length=5.5,width=.8,left=True,right=True,color='#333333',labelsize=23,pad=7)
ins.tick_params(axis='both',which='minor',direction='in',length=3,width=.8,top=True,bottom=True,left=True,right=True,color='#333333')
for s in ins.spines.values():
    s.set_linewidth(1.0); s.set_color('#333333'); s.set_visible(True)
ins.set_xlabel(''); ins.set_ylabel('')
ins.text(-.025,.973,'100',transform=ins.transAxes,fontsize=23,ha='right',va='center')
ins.text(.04,.905,'SAMI',transform=ins.transAxes,fontsize=25,va='center')
ins.text(.04,.795,'(log-log)',transform=ins.transAxes,fontsize=21,va='center')

# colour bar
cax = fig.add_axes([316/W,1-800/H,(348.5-316)/W,(800-470)/H])
grad = np.linspace(0,45,256).reshape(-1,1)
cax.imshow(grad,aspect='auto',origin='lower',extent=[0,1,0,45],cmap=vg_cmap,norm=vg_norm)
cax.set_xticks([]); cax.set_yticks(cbar_ticks); cax.set_yticklabels([])
cax.set_yticks([v*2.25 for v in range(1,20) if v%5],minor=True)
cax.tick_params(axis='y',which='major',direction='in',length=6,width=.8,left=True,right=True,color='#333333')
cax.tick_params(axis='y',which='minor',direction='in',length=3,width=.8,left=True,right=True,color='#333333')
for s in cax.spines.values():
    s.set_linewidth(1.0); s.set_color('#333333')
for lab,pos in zip(cbar_labels,cbar_label_pos):
    cax.text(-.2,pos,lab,fontsize=24,ha='right',va='center')
fig.text(317/W,1-439/H,'v$_{\\mathrm{g}}$ (km/s)',fontsize=25.5,ha='center',va='center')

fig.savefig('out.png',dpi=100)
